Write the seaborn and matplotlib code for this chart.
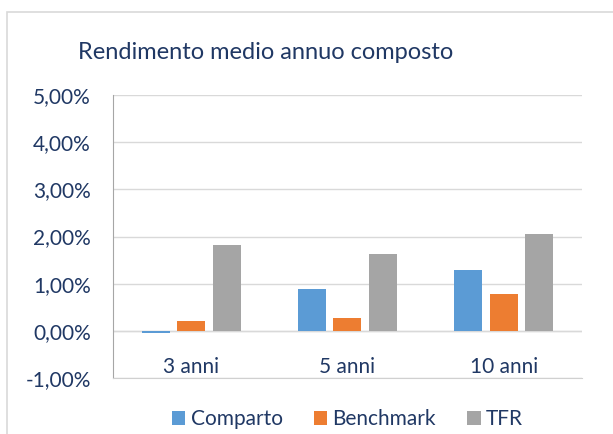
import pandas as pd
import seaborn as sns
import matplotlib.pyplot as plt
from matplotlib.ticker import FuncFormatter
from matplotlib.patches import Rectangle

periodi = ['3 anni', '5 anni', '10 anni']
comparto = [-0.04, 0.89, 1.29]
benchmark = [0.21, 0.27, 0.78]
tfr = [1.81, 1.62, 2.06]
serie = ['Comparto', 'Benchmark', 'TFR']
colori = ['#5B9BD5', '#ED7D31', '#A5A5A5']

df = pd.DataFrame({
    'periodo': periodi * 3,
    'serie': [s for s in serie for _ in periodi],
    'valore': comparto + benchmark + tfr,
})

sns.set_style('white')
plt.rcParams['font.family'] = ['Lato', 'DejaVu Sans']
testo = '#203864'

fig = plt.figure(figsize=(6.13, 4.34), dpi=100)
ax = fig.add_axes([0.1843, 0.129, 0.7651, 0.652])
sns.barplot(data=df, x='periodo', y='valore', hue='serie', palette=colori,
            width=0.68, gap=0.21, linewidth=0, saturation=1, ax=ax, legend=True)

ax.set_ylim(-1, 5)
ax.set_xlim(-0.5, 2.5)
ax.set_yticks(range(-1, 6))
ax.yaxis.set_major_formatter(FuncFormatter(lambda v, p: f'{v:.2f}%'.replace('.', ',')))
ax.grid(axis='y', color='#d9d9d9', linewidth=1)
ax.set_axisbelow(True)
ax.axhline(0, color='#d9d9d9', linewidth=1, zorder=0.5)
ax.set_xlabel('')
ax.set_ylabel('')
for s in ['top', 'right']:
    ax.spines[s].set_visible(False)
ax.spines['left'].set_color('#a6a6a6')
ax.spines['bottom'].set_color('#d0d0d0')
ax.tick_params(axis='y', length=0, pad=16, labelsize=15, labelcolor=testo)
# etichette categorie vicino all'asse dello zero
ax.tick_params(axis='x', length=0, pad=-15, labelsize=15, labelcolor=testo)

leg = ax.legend(loc='center', bbox_to_anchor=(0.5, -0.145), ncol=3, frameon=False,
                fontsize=15, handlelength=0.65, handleheight=0.65, handletextpad=0.25,
                columnspacing=1.5)
for t in leg.get_texts():
    t.set_color(testo)

fig.text(0.434, 0.878, 'Rendimento medio annuo composto', ha='center', va='center',
         fontsize=17, color=testo)
fig.patches.append(Rectangle((7 / 613, -0.1), 1.2, 1.1 - 12 / 434, transform=fig.transFigure,
                             fill=False, edgecolor='#d9d9d9', linewidth=1.2))

plt.savefig('out.png', dpi=100)
